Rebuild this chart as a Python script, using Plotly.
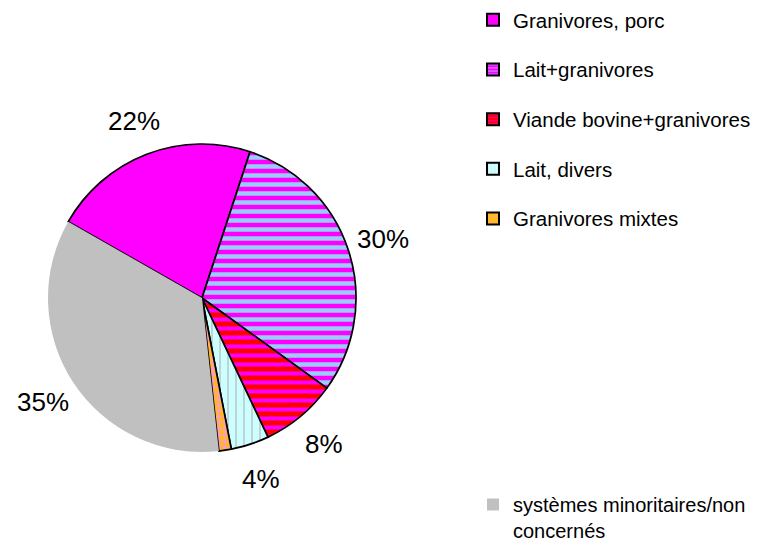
import math
import plotly.graph_objects as go

# ---- data ----
labels = ["Granivores, porc", "Lait+granivores", "Viande bovine+granivores",
          "Lait, divers", "Granivores mixtes",
          "systèmes minoritaires/non<br>concernés"]
values = [21.8, 29.9, 8.0, 4.0, 1.3, 35.0]
show_pct = [True, True, True, True, False, True]

# ---- styles ----
colors = ["#FF00FF", "#FF00FF", "#FF0000", "#CCFFFF", "#FFBF00", "#C0C0C0"]
p_shape = ["", "-", "-", "|", ".", ""]
p_fg = ["#FF00FF", "#99CCFF", "#FF00FF", "#B8B8B8", "#FF99CC", "#C0C0C0"]
p_sol = [0.5, 0.5, 0.45, 0.15, 0.5, 0.5]
p_size = [8, 9, 9, 8, 6, 8]
line_cols = ["black"] * 5 + ["rgba(0,0,0,0)"]

W, H = 759, 550
cx, cy, R = 202, 298, 154
start_deg = -60.3
FONT = "Arial, Liberation Sans, sans-serif"

fig = go.Figure()
fig.add_trace(go.Pie(
    labels=labels, values=values, sort=False, direction="clockwise",
    rotation=start_deg, textinfo="none", showlegend=False, hoverinfo="skip",
    domain=dict(x=[(cx - R) / W, (cx + R) / W], y=[1 - (cy + R) / H, 1 - (cy - R) / H]),
    marker=dict(colors=colors, line=dict(color=line_cols, width=1.7),
                pattern=dict(shape=p_shape, fgcolor=p_fg, bgcolor=colors,
                             solidity=p_sol, size=p_size, fillmode="replace")),
))

# legend entries (dummy bars carrying the same fills)
for i, lab in enumerate(labels):
    last = i == len(labels) - 1
    marker = dict(color=colors[i],
                  line=dict(color="#C0C0C0" if last else "black", width=0 if last else 2))
    if p_shape[i]:
        marker["pattern"] = dict(shape=p_shape[i], fgcolor=p_fg[i], bgcolor=colors[i],
                                 solidity=p_sol[i], size=4)
    fig.add_trace(go.Bar(
        x=[None], y=[None], name=lab, legendgroup=str(i),
        legend="legend2" if last else "legend", marker=marker,
    ))

# percentage labels
total = sum(values)
acc = 0.0
annotations = []
for v, show in zip(values, show_pct):
    mid = start_deg + (acc + v / 2) / total * 360
    acc += v
    if not show:
        continue
    a = math.radians(mid)
    px = cx + 190 * math.sin(a)
    py = cy - 190 * math.cos(a)
    annotations.append(dict(x=px / W, y=1 - py / H, xref="paper", yref="paper",
                            text=f"{round(v / total * 100)}%", showarrow=False,
                            font=dict(size=26, color="black", family=FONT),
                            xanchor="center", yanchor="middle"))

fig.update_layout(
    width=W, height=H, margin=dict(l=0, r=0, t=0, b=0),
    paper_bgcolor="white", plot_bgcolor="white",
    font=dict(family=FONT, color="black", size=21),
    xaxis=dict(visible=False), yaxis=dict(visible=False),
    annotations=annotations,
    legend=dict(x=473 / W, y=1, xanchor="left", yanchor="top",
                font=dict(size=20.5), tracegroupgap=20, itemclick=False,
                itemdoubleclick=False, bgcolor="rgba(0,0,0,0)"),
    legend2=dict(x=473 / W, y=0, xanchor="left", yanchor="bottom",
                 font=dict(size=20), valign="top", itemclick=False,
                 itemdoubleclick=False, bgcolor="rgba(0,0,0,0)"),
)

fig.write_html(
    "out.html",
    config={"displayModeBar": False},
    post_script="document.body.style.margin='0';document.documentElement.style.overflow='hidden';",
)
